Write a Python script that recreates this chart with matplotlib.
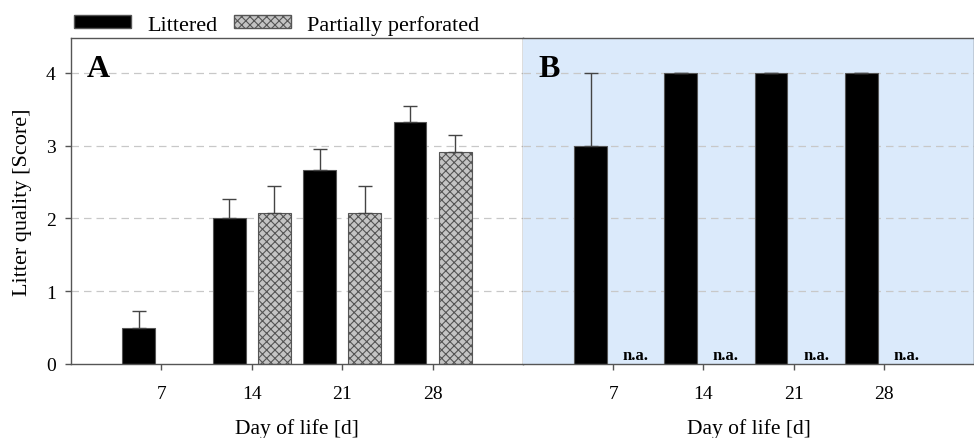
import matplotlib.pyplot as plt
import matplotlib.patches as mpatches
import numpy as np

plt.rcParams['font.family'] = ['Liberation Serif', 'DejaVu Serif']
plt.rcParams['hatch.color'] = '#555555'
plt.rcParams['hatch.linewidth'] = 0.8

# data
days = [7, 14, 21, 28]
a_littered = [0.5, 2.0, 2.67, 3.33]
a_littered_err = [0.23, 0.27, 0.28, 0.22]
a_perforated = [np.nan, 2.08, 2.08, 2.92]
a_perforated_err = [np.nan, 0.36, 0.36, 0.23]
b_littered = [3.0, 4.0, 4.0, 4.0]
b_littered_err = [1.0, 0.0, 0.0, 0.0]
b_perforated_label = 'n.a.'

edge = '#555555'
bar_w = 2.55
off = 1.75

fig = plt.figure(figsize=(9.74, 4.39), dpi=100)
axA = fig.add_axes([71/974, 1 - 365/439, 452/974, 326/439])
axB = fig.add_axes([523/974, 1 - 365/439, 451/974, 326/439])

x = np.array(days, dtype=float)

for ax in (axA, axB):
    ax.set_xlim(0, 35)
    ax.set_ylim(0, 4.48)
    ax.set_xticks(days)
    ax.set_xticklabels([str(d) for d in days], fontsize=14)
    ax.set_yticks([0, 1, 2, 3, 4])
    for y in [1, 2, 3, 4]:
        ax.axhline(y, color='#c8c8c8', linestyle=(0, (6, 4)), linewidth=0.9, zorder=0)
    for s in ax.spines.values():
        s.set_color(edge)
        s.set_linewidth(1.0)
    ax.tick_params(axis='x', direction='out', length=4, width=1, color=edge, pad=11)
    ax.set_xlabel('Day of life [d]', fontsize=15.5, labelpad=12)

# panel A
axA.bar(x - off, a_littered, width=bar_w, color='black', edgecolor=edge, linewidth=0.8, zorder=2)
axA.errorbar(x - off, a_littered, yerr=[np.zeros(4), a_littered_err], fmt='none',
             ecolor='#444444', elinewidth=1, capsize=4.7, capthick=1, zorder=3)
perf = np.array(a_perforated)
mask = ~np.isnan(perf)
axA.bar(x[mask] + off, perf[mask], width=bar_w, color='#c4c4c4', edgecolor=edge,
        linewidth=0.8, hatch='xxxx', zorder=2)
axA.errorbar(x[mask] + off, perf[mask],
             yerr=[np.zeros(mask.sum()), np.array(a_perforated_err)[mask]], fmt='none',
             ecolor='#444444', elinewidth=1, capsize=4.7, capthick=1, zorder=3)
axA.set_yticklabels(['0', '1', '2', '3', '4'], fontsize=14)
axA.tick_params(axis='y', direction='out', length=4, width=1, color=edge, pad=7)
axA.set_ylabel('Litter quality [Score]', fontsize=16, labelpad=10)
axA.text(0.035, 0.95, 'A', transform=axA.transAxes, fontsize=23, fontweight='bold',
         va='top', ha='left')

# panel B
axB.set_facecolor('#dbeafb')
axB.bar(x - off, b_littered, width=bar_w, color='black', edgecolor=edge, linewidth=0.8, zorder=2)
axB.errorbar(x - off, b_littered, yerr=[np.zeros(4), b_littered_err], fmt='none',
             ecolor='#444444', elinewidth=1, capsize=4.7, capthick=1, zorder=3)
for d in days:
    axB.text(d + off, 0.02, b_perforated_label, ha='center', va='bottom',
             fontsize=12, fontweight='bold')
axB.set_yticklabels([])
axB.tick_params(axis='y', length=0)
axB.spines['left'].set_visible(False)
axB.text(0.035, 0.95, 'B', transform=axB.transAxes, fontsize=23, fontweight='bold',
         va='top', ha='left')

# legend
h1 = mpatches.Patch(facecolor='black', edgecolor=edge, label='Littered')
h2 = mpatches.Patch(facecolor='#c4c4c4', edgecolor=edge, hatch='xxxx', label='Partially perforated')
fig.legend(handles=[h1, h2], loc='upper left', bbox_to_anchor=(0.055, 1.01), ncol=2,
           frameon=False, fontsize=16, handlelength=2.6, handleheight=0.5,
           columnspacing=0.75, handletextpad=0.7)

fig.savefig('out.png', dpi=100)
